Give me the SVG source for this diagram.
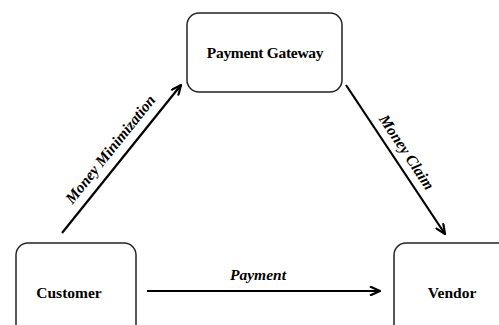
<svg xmlns="http://www.w3.org/2000/svg" width="499" height="325" viewBox="0 0 499 325">
<style>
.box{fill:#fff;stroke:#222;stroke-width:1.5}
.lbl{font-family:"Liberation Serif","Times New Roman",serif;font-weight:bold;font-size:15.5px;fill:#000;text-anchor:middle;dominant-baseline:central}
.it{font-style:italic}
.c{stroke:#000;stroke-width:2.2;fill:none;marker-end:url(#ah)}
</style>
<defs>
<marker id="ah" viewBox="0 0 12 10" refX="11" refY="5" markerWidth="12" markerHeight="10" markerUnits="userSpaceOnUse" orient="auto">
<path d="M1,0.5 L11,5 L1,9.5" fill="none" stroke="#000" stroke-width="2.2" stroke-linejoin="miter"/>
</marker>
</defs>
<rect width="499" height="325" fill="#fff"/>
<g id="gateway"><rect class="box" x="187" y="13" width="155" height="79" rx="12"/><text class="lbl" x="265" y="52" letter-spacing="-0.3">Payment Gateway</text></g>
<g id="customer"><rect class="box" x="16" y="243" width="120" height="100" rx="12"/><text class="lbl" x="69" y="292">Customer</text></g>
<g id="vendor"><rect class="box" x="394" y="243" width="120" height="100" rx="12"/><text class="lbl" x="452" y="292">Vendor</text></g>
<g id="connectors">
<line class="c" x1="62" y1="233" x2="181" y2="85"/>
<line class="c" x1="346" y1="85" x2="445" y2="234"/>
<line class="c" x1="147" y1="291" x2="380" y2="291"/>
<text class="lbl it" transform="translate(110,149) rotate(-51.3)">Money Minimization</text>
<text class="lbl it" transform="translate(407,152) rotate(56.4)">Money Claim</text>
<text class="lbl it" x="258" y="274">Payment</text>
</g>
</svg>
